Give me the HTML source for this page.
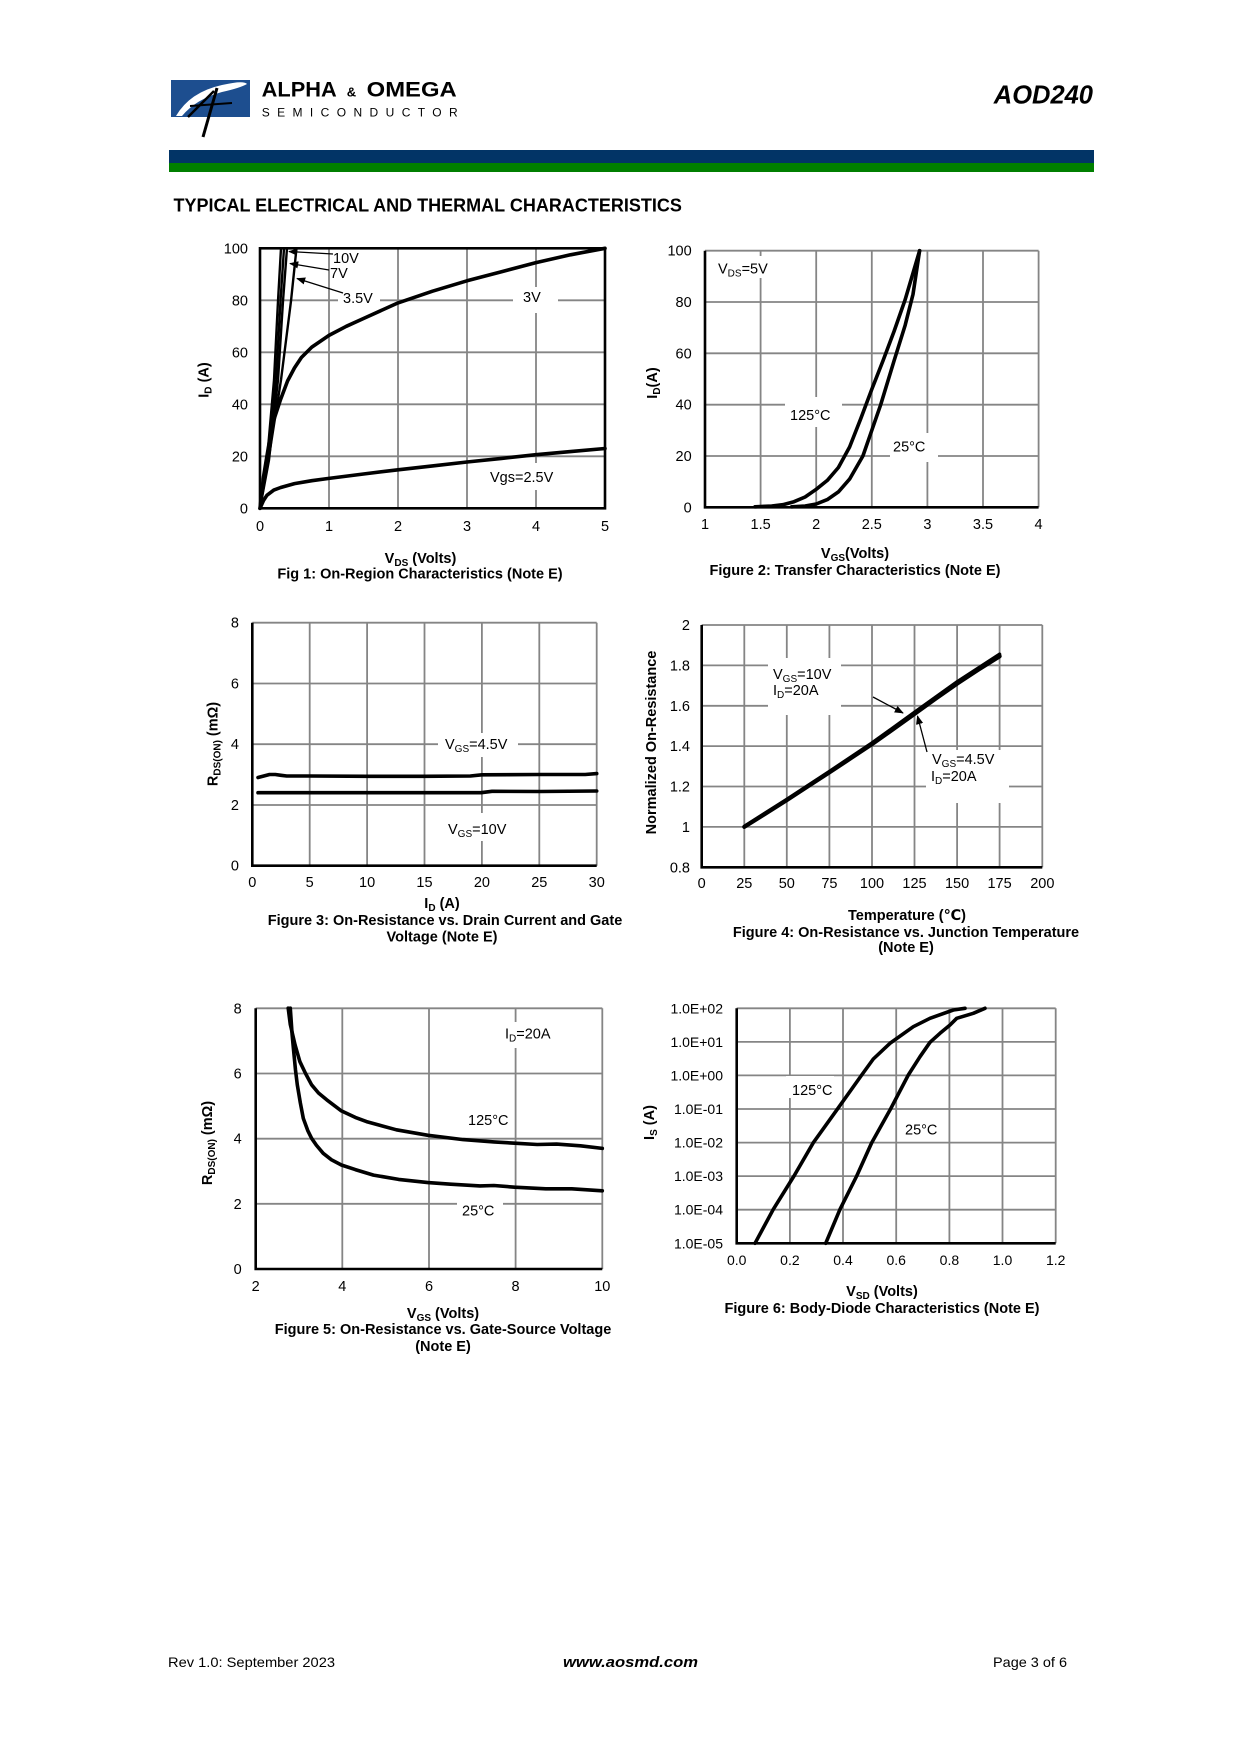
<!DOCTYPE html>
<html>
<head>
<meta charset="utf-8">
<style>
html,body{margin:0;padding:0;background:#fff;}
svg{display:block;}
text{font-family:"Liberation Sans",Arial,"DejaVu Sans",sans-serif;fill:#000;}
.tk{font-size:14.5px;}
.tk6{font-size:14px;}
.lb{font-size:14.5px;}
.b{font-weight:bold;}
.g{stroke:#858585;stroke-width:1.8;fill:none;}
.ax{stroke:#000;stroke-width:2.6;fill:none;}
.c{fill:none;stroke:#000;stroke-width:3.6;stroke-linejoin:round;stroke-linecap:round;}
.cs{fill:none;stroke:#000;stroke-width:2.4;stroke-linejoin:round;stroke-linecap:round;}
.ar{stroke:#000;stroke-width:1.3;fill:none;}
</style>
</head>
<body>
<svg width="1240" height="1754" viewBox="0 0 1240 1754" xmlns="http://www.w3.org/2000/svg">
<defs>
<marker id="ah" viewBox="0 0 10 10" refX="9" refY="5" markerWidth="7" markerHeight="7" orient="auto"><path d="M0,1 L10,5 L0,9 z" fill="#000"/></marker>
<clipPath id="lg"><rect x="171" y="80" width="79" height="37"/></clipPath>
</defs>
<rect x="0" y="0" width="1240" height="1754" fill="#fff"/>

<!-- ===== HEADER ===== -->
<rect x="171" y="80" width="79" height="37" fill="#1d4e8f"/>
<g clip-path="url(#lg)">
<path d="M176,116 Q190,92 222,85 Q244,80 247,84 Q240,88 222,92 Q196,99 182,116 Z" fill="#fff"/>
</g>
<line x1="203" y1="137" x2="217" y2="88" stroke="#000" stroke-width="3"/>
<line x1="188" y1="117" x2="214" y2="91" stroke="#000" stroke-width="2.5"/>
<line x1="190" y1="106" x2="232" y2="103" stroke="#000" stroke-width="2"/>
<text x="261.7" y="96.7" font-size="21.5" font-weight="bold" textLength="75" lengthAdjust="spacingAndGlyphs">ALPHA</text>
<text x="346.7" y="96.7" font-size="13" font-weight="bold">&amp;</text>
<text x="366.7" y="96.7" font-size="21.5" font-weight="bold" textLength="90" lengthAdjust="spacingAndGlyphs">OMEGA</text>
<text x="261.7" y="116.7" font-size="12" fill="#222" textLength="196" lengthAdjust="spacing">SEMICONDUCTOR</text>
<text x="1093" y="103.3" font-size="25.5" font-weight="bold" font-style="italic" text-anchor="end">AOD240</text>
<rect x="169" y="150" width="925" height="13" fill="#023466"/>
<rect x="169" y="163" width="925" height="9" fill="#007f00"/>
<text x="173.5" y="211.7" font-size="18" font-weight="bold">TYPICAL ELECTRICAL AND THERMAL CHARACTERISTICS</text>

<!-- ===== FIG 1 ===== -->
<g>
<path class="g" d="M329,248.3V508.3 M398,248.3V508.3 M467,248.3V508.3 M536,248.3V508.3 M260,300.3H605 M260,352.3H605 M260,404.3H605 M260,456.3H605"/>
<rect x="338" y="290" width="42" height="20" fill="#fff"/>
<rect x="513" y="287" width="45" height="26" fill="#fff"/>
<rect x="485" y="463" width="73" height="27" fill="#fff"/>
<rect class="ax" x="260" y="248.3" width="345" height="260"/>
<path class="c" d="M260,508.3 L263.5,500.5 L266.9,495.3 L273.8,490.1 L280.7,487.5 L294.5,483.6 L311.8,480.7 L329,478.4 L363.5,474 L398,469.8 L432.5,465.9 L467,462 L501.5,458.4 L536,454.7 L570.5,451.6 L605,448.5"/>
<path class="c" d="M260,508.3 L263.5,477.1 L266.9,456.3 L270.4,435.5 L273.8,419.9 L280.7,399.1 L287.6,380.9 L294.5,367.9 L301.4,357.5 L311.8,347.1 L329,335.4 L346.3,326.3 L363.5,318.5 L398,302.9 L432.5,291.2 L467,280.8 L501.5,271.7 L536,262.6 L570.5,254.8 L605,248.3"/>
<path class="cs" d="M260,508.3 L267,460 L274,380 L278,301 L281,248.3"/>
<path class="cs" d="M260,508.3 L268,460 L276,380 L280.5,301 L284,248.3"/>
<path class="cs" d="M260,508.3 L269,460 L278,380 L283,301 L287,248.3"/>
<path class="cs" d="M260,508.3 L270,450 L281,380 L291,301 L296.5,248.3"/>
<line class="ar" x1="333" y1="254" x2="289" y2="251.5" marker-end="url(#ah)"/>
<line class="ar" x1="329" y1="270" x2="290" y2="263.5" marker-end="url(#ah)"/>
<line class="ar" x1="343" y1="293" x2="297" y2="278.5" marker-end="url(#ah)"/>
<text class="lb" x="333" y="263">10V</text>
<text class="lb" x="330" y="278">7V</text>
<text class="lb" x="343" y="303">3.5V</text>
<text class="lb" x="523" y="302">3V</text>
<text class="lb" x="490" y="482">Vgs=2.5V</text>
<g class="tk" text-anchor="end">
<text x="248" y="253.3">100</text><text x="248" y="305.3">80</text><text x="248" y="357.3">60</text><text x="248" y="409.3">40</text><text x="248" y="461.3">20</text><text x="248" y="513.3">0</text>
</g>
<g class="tk" text-anchor="middle">
<text x="260" y="531">0</text><text x="329" y="531">1</text><text x="398" y="531">2</text><text x="467" y="531">3</text><text x="536" y="531">4</text><text x="605" y="531">5</text>
</g>
<text class="lb b" text-anchor="middle" transform="translate(208.5,380) rotate(-90)">I<tspan font-size="10" dy="3">D</tspan><tspan dy="-3"> (A)</tspan></text>
<text class="lb b" x="420.5" y="563" text-anchor="middle">V<tspan font-size="10" dy="3">DS</tspan><tspan dy="-3"> (Volts)</tspan></text>
<text class="lb b" x="420" y="578.3" text-anchor="middle">Fig 1: On-Region Characteristics (Note E)</text>
</g>

<!-- ===== FIG 2 ===== -->
<g>
<path class="g" d="M760.6,250.7V507.3 M816.2,250.7V507.3 M871.8,250.7V507.3 M927.4,250.7V507.3 M983,250.7V507.3 M1038.6,250.7V507.3 M705,250.7H1038.6 M705,302H1038.6 M705,353.3H1038.6 M705,404.7H1038.6 M705,456H1038.6"/>
<rect x="714" y="256" width="56" height="22" fill="#fff"/>
<rect x="785" y="397" width="57" height="30" fill="#fff"/>
<rect x="890" y="433" width="48" height="29" fill="#fff"/>
<path class="ax" d="M705,250.7V507.3H1038.6"/>
<path class="c" d="M755,506.8 L771.7,506 L782.8,504.7 L794,501.7 L805.1,497 L816.2,489.3 L827.3,480.4 L838.4,467.5 L849.6,447 L860.7,418.8 L871.8,389.3 L882.9,361 L894,331.5 L905.2,299.5 L919.6,250.7"/>
<path class="c" d="M791.7,506.8 L805.1,506 L816.2,504 L827.3,499.6 L838.4,491.9 L849.6,479.1 L862.9,456 L871.8,430.3 L880.7,404.7 L894,361 L905.2,325.1 L913,294.3 L919.6,250.7"/>
<text class="lb" x="718" y="273.3">V<tspan font-size="10" dy="3">DS</tspan><tspan dy="-3">=5V</tspan></text>
<text class="lb" x="790" y="420">125°C</text>
<text class="lb" x="893" y="451.7">25°C</text>
<g class="tk" text-anchor="end">
<text x="691.7" y="255.7">100</text><text x="691.7" y="307">80</text><text x="691.7" y="358.3">60</text><text x="691.7" y="409.7">40</text><text x="691.7" y="461">20</text><text x="691.7" y="512.3">0</text>
</g>
<g class="tk" text-anchor="middle">
<text x="705" y="529">1</text><text x="760.6" y="529">1.5</text><text x="816.2" y="529">2</text><text x="871.8" y="529">2.5</text><text x="927.4" y="529">3</text><text x="983" y="529">3.5</text><text x="1038.6" y="529">4</text>
</g>
<text class="lb b" text-anchor="middle" transform="translate(657,383) rotate(-90)">I<tspan font-size="10" dy="3">D</tspan><tspan dy="-3">(A)</tspan></text>
<text class="lb b" x="855" y="558" text-anchor="middle">V<tspan font-size="10" dy="3">GS</tspan><tspan dy="-3">(Volts)</tspan></text>
<text class="lb b" x="855" y="575" text-anchor="middle">Figure 2: Transfer Characteristics (Note E)</text>
</g>

<!-- ===== FIG 3 ===== -->
<g>
<path class="g" d="M309.7,622.7V865.7 M367.1,622.7V865.7 M424.5,622.7V865.7 M481.9,622.7V865.7 M539.3,622.7V865.7 M596.7,622.7V865.7 M252.3,622.7H596.7 M252.3,683.5H596.7 M252.3,744.2H596.7 M252.3,805H596.7"/>
<rect x="438" y="733" width="80" height="24" fill="#fff"/>
<rect x="441" y="813" width="70" height="28" fill="#fff"/>
<path class="ax" d="M252.3,622.7V865.7H596.7"/>
<path class="c" d="M258,777.5 L263.8,776 L269.5,774.5 L275.3,774.5 L281,775.3 L286.7,776 L309.7,776 L367.1,776.3 L424.5,776.3 L470.4,776 L481.9,774.8 L539.3,774.5 L585.2,774.5 L596.7,773.6"/>
<path class="c" d="M258,792.7 L481,792.7 L492,791.3 L540,791.5 L596.7,791"/>
<text class="lb" x="445" y="749">V<tspan font-size="10" dy="3">GS</tspan><tspan dy="-3">=4.5V</tspan></text>
<text class="lb" x="448" y="834">V<tspan font-size="10" dy="3">GS</tspan><tspan dy="-3">=10V</tspan></text>
<g class="tk" text-anchor="end">
<text x="239" y="627.7">8</text><text x="239" y="688.5">6</text><text x="239" y="749.2">4</text><text x="239" y="810">2</text><text x="239" y="870.7">0</text>
</g>
<g class="tk" text-anchor="middle">
<text x="252.3" y="887">0</text><text x="309.7" y="887">5</text><text x="367.1" y="887">10</text><text x="424.5" y="887">15</text><text x="481.9" y="887">20</text><text x="539.3" y="887">25</text><text x="596.7" y="887">30</text>
</g>
<text class="lb b" text-anchor="middle" transform="translate(217.5,744) rotate(-90)">R<tspan font-size="10" dy="3">DS(ON)</tspan><tspan dy="-3"> (mΩ)</tspan></text>
<text class="lb b" x="442" y="908" text-anchor="middle">I<tspan font-size="10" dy="3">D</tspan><tspan dy="-3"> (A)</tspan></text>
<text class="lb b" x="445" y="925" text-anchor="middle">Figure 3: On-Resistance vs. Drain Current and Gate</text>
<text class="lb b" x="442" y="941.7" text-anchor="middle">Voltage (Note E)</text>
</g>

<!-- ===== FIG 4 ===== -->
<g>
<path class="g" d="M744.3,625V867.3 M786.8,625V867.3 M829.4,625V867.3 M872,625V867.3 M914.5,625V867.3 M957.1,625V867.3 M999.6,625V867.3 M1042.3,625V867.3 M701.7,625H1042.3 M701.7,665.4H1042.3 M701.7,705.8H1042.3 M701.7,746.1H1042.3 M701.7,786.5H1042.3 M701.7,826.9H1042.3"/>
<rect x="768" y="658" width="73" height="57" fill="#fff"/>
<rect x="926" y="750" width="83" height="53" fill="#fff"/>
<path class="ax" d="M701.7,625V867.3H1042.3"/>
<path class="c" style="stroke-width:4.2" d="M744.3,826.9 L765.5,813.6 L786.8,800.1 L808,786.3 L829.4,772.4 L850.7,758.3 L872,744.1 L893.2,729.2 L914.5,713.9 L935.8,698.6 L957.1,683.6 L978.4,669.6 L999.6,656.3"/>
<path class="c" style="stroke-width:3.4" d="M744.3,826.3 L786.8,799.3 L829.4,771.4 L872,742.9 L914.5,712.3 L957.1,681.8 L999.6,654.2"/>
<line class="ar" x1="873" y1="697" x2="903" y2="713" marker-end="url(#ah)"/>
<line class="ar" x1="927" y1="752" x2="917.5" y2="716" marker-end="url(#ah)"/>
<text class="lb" x="773" y="679">V<tspan font-size="10" dy="3">GS</tspan><tspan dy="-3">=10V</tspan></text>
<text class="lb" x="773" y="695">I<tspan font-size="10" dy="3">D</tspan><tspan dy="-3">=20A</tspan></text>
<text class="lb" x="932" y="764">V<tspan font-size="10" dy="3">GS</tspan><tspan dy="-3">=4.5V</tspan></text>
<text class="lb" x="931" y="781">I<tspan font-size="10" dy="3">D</tspan><tspan dy="-3">=20A</tspan></text>
<g class="tk" text-anchor="end">
<text x="690" y="630">2</text><text x="690" y="670.4">1.8</text><text x="690" y="710.8">1.6</text><text x="690" y="751.1">1.4</text><text x="690" y="791.5">1.2</text><text x="690" y="831.9">1</text><text x="690" y="872.3">0.8</text>
</g>
<g class="tk" text-anchor="middle">
<text x="701.7" y="888">0</text><text x="744.3" y="888">25</text><text x="786.8" y="888">50</text><text x="829.4" y="888">75</text><text x="872" y="888">100</text><text x="914.5" y="888">125</text><text x="957.1" y="888">150</text><text x="999.6" y="888">175</text><text x="1042.3" y="888">200</text>
</g>
<text class="lb b" text-anchor="middle" transform="translate(656,742.5) rotate(-90)">Normalized On-Resistance</text>
<text class="lb b" x="907" y="920" text-anchor="middle">Temperature (℃)</text>
<text class="lb b" x="906" y="937" text-anchor="middle">Figure 4: On-Resistance vs. Junction Temperature</text>
<text class="lb b" x="906" y="952" text-anchor="middle">(Note E)</text>
</g>

<!-- ===== FIG 5 ===== -->
<g>
<path class="g" d="M342.3,1008.3V1269 M429,1008.3V1269 M515.6,1008.3V1269 M602.3,1008.3V1269 M255.7,1008.3H602.3 M255.7,1073.5H602.3 M255.7,1138.7H602.3 M255.7,1203.8H602.3"/>
<rect x="500" y="1022" width="55" height="26" fill="#fff"/>
<rect x="457" y="1198" width="46" height="22" fill="#fff"/>
<path class="ax" d="M255.7,1008.3V1269H602.3"/>
<path class="c" d="M288.2,1008.2 L290.3,1024.5 L295.1,1045 L299.9,1061.7 L305.5,1073.4 L311.6,1084.8 L318.5,1093 L326.7,1099.8 L341.4,1110.9 L355.3,1117.4 L366.5,1121.6 L396.4,1129.8 L428,1135.3 L463.1,1139.6 L493.9,1141.9 L514.6,1143.2 L537.2,1144.5 L556.6,1144.1 L580.5,1145.8 L602.3,1148.4"/>
<path class="c" d="M290.3,1008.2 L292.1,1034.3 L293.4,1048.3 L295.5,1070.1 L297.3,1084.8 L300.3,1102.7 L303.3,1118.4 L307.7,1130.4 L311.6,1138.3 L316.3,1145.1 L323.2,1153.3 L331.5,1159.8 L341.4,1165 L355.3,1169.6 L373.5,1175.1 L398.6,1179.4 L428,1182.6 L450.6,1184.2 L480,1185.9 L493.9,1185.5 L514.6,1187.2 L545.8,1188.8 L571.8,1188.8 L602.3,1190.8"/>
<text class="lb" x="505" y="1038.3">I<tspan font-size="10" dy="3">D</tspan><tspan dy="-3">=20A</tspan></text>
<text class="lb" x="468" y="1125">125°C</text>
<text class="lb" x="462" y="1215.7">25°C</text>
<g class="tk" text-anchor="end">
<text x="241.7" y="1013.3">8</text><text x="241.7" y="1078.5">6</text><text x="241.7" y="1143.7">4</text><text x="241.7" y="1208.8">2</text><text x="241.7" y="1274">0</text>
</g>
<g class="tk" text-anchor="middle">
<text x="255.7" y="1291">2</text><text x="342.3" y="1291">4</text><text x="429" y="1291">6</text><text x="515.6" y="1291">8</text><text x="602.3" y="1291">10</text>
</g>
<text class="lb b" text-anchor="middle" transform="translate(212,1143) rotate(-90)">R<tspan font-size="10" dy="3">DS(ON)</tspan><tspan dy="-3"> (mΩ)</tspan></text>
<text class="lb b" x="443" y="1318" text-anchor="middle">V<tspan font-size="10" dy="3">GS</tspan><tspan dy="-3"> (Volts)</tspan></text>
<text class="lb b" x="443" y="1334" text-anchor="middle">Figure 5: On-Resistance vs. Gate-Source Voltage</text>
<text class="lb b" x="443" y="1351" text-anchor="middle">(Note E)</text>
</g>

<!-- ===== FIG 6 ===== -->
<g>
<path class="g" d="M789.9,1008.3V1243.3 M843,1008.3V1243.3 M896.2,1008.3V1243.3 M949.4,1008.3V1243.3 M1002.5,1008.3V1243.3 M1055.7,1008.3V1243.3 M736.7,1008.3H1055.7 M736.7,1041.9H1055.7 M736.7,1075.4H1055.7 M736.7,1109H1055.7 M736.7,1142.6H1055.7 M736.7,1176.1H1055.7 M736.7,1209.7H1055.7"/>
<rect x="786" y="1076" width="48" height="22" fill="#fff"/>
<path class="ax" d="M736.7,1008.3V1243.3H1055.7"/>
<path class="c" d="M755,1243.3 L773.3,1209.3 L794,1176 L813.3,1142.7 L837.7,1108.7 L861.7,1075 L873.3,1059 L890,1043.3 L913.3,1026.7 L930,1018.3 L953.3,1010 L965,1008.3"/>
<path class="c" d="M825.7,1243.3 L840,1209.3 L856.7,1176 L871.7,1142.7 L890.7,1108.7 L908.3,1075 L920,1056.7 L930,1042.3 L940,1033.3 L950,1025 L956.7,1018.3 L973.3,1013.3 L985,1008.3"/>
<text class="lb" x="792" y="1095">125°C</text>
<text class="lb" x="905" y="1134.3">25°C</text>
<g class="tk6" text-anchor="end">
<text x="723" y="1013.3">1.0E+02</text><text x="723" y="1046.9">1.0E+01</text><text x="723" y="1080.4">1.0E+00</text><text x="723" y="1114">1.0E-01</text><text x="723" y="1147.6">1.0E-02</text><text x="723" y="1181.1">1.0E-03</text><text x="723" y="1214.7">1.0E-04</text><text x="723" y="1248.3">1.0E-05</text>
</g>
<g class="tk6" text-anchor="middle">
<text x="736.7" y="1265">0.0</text><text x="789.9" y="1265">0.2</text><text x="843" y="1265">0.4</text><text x="896.2" y="1265">0.6</text><text x="949.4" y="1265">0.8</text><text x="1002.5" y="1265">1.0</text><text x="1055.7" y="1265">1.2</text>
</g>
<text class="lb b" text-anchor="middle" transform="translate(654,1122.5) rotate(-90)">I<tspan font-size="10" dy="3">S</tspan><tspan dy="-3"> (A)</tspan></text>
<text class="lb b" x="882" y="1296" text-anchor="middle">V<tspan font-size="10" dy="3">SD</tspan><tspan dy="-3"> (Volts)</tspan></text>
<text class="lb b" x="882" y="1313" text-anchor="middle">Figure 6: Body-Diode Characteristics (Note E)</text>
</g>

<!-- ===== FOOTER ===== -->
<text x="168" y="1667" font-size="14" textLength="167" lengthAdjust="spacingAndGlyphs">Rev 1.0: September 2023</text>
<text x="563" y="1667" font-size="15" font-weight="bold" font-style="italic" textLength="135" lengthAdjust="spacingAndGlyphs">www.aosmd.com</text>
<text x="993" y="1667" font-size="14" textLength="74" lengthAdjust="spacingAndGlyphs">Page 3 of 6</text>
</svg>
</body>
</html>
